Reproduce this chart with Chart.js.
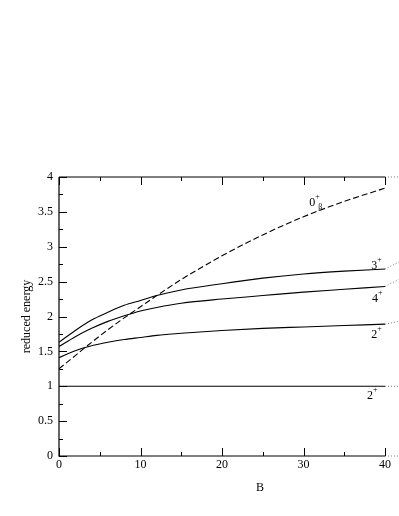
<!DOCTYPE html>
<html>
<head>
<meta charset="utf-8">
<script src="https://cdn.jsdelivr.net/npm/chart.js@4.4.1/dist/chart.umd.min.js"></script>
<style>
    html, body { margin: 0; padding: 0; background: #fff; }
    #wrap { width: 399px; height: 516px; }
</style>
</head>
<body>
<div id="wrap"><canvas id="chart"></canvas></div>
<script>
    // B values and reduced energies
    const bValues = [0, 2, 4, 6, 8, 10, 12, 15, 20, 25, 30, 35, 40];
    const zeroBeta = [1.25, 1.44, 1.63, 1.81, 1.98, 2.14, 2.30, 2.53, 2.87, 3.17, 3.43, 3.65, 3.84];
    const threePlus = [1.63, 1.80, 1.95, 2.06, 2.16, 2.23, 2.30, 2.38, 2.47, 2.55, 2.61, 2.65, 2.68];
    const fourPlus = [1.57, 1.71, 1.83, 1.93, 2.01, 2.08, 2.13, 2.19, 2.25, 2.30, 2.35, 2.39, 2.43];
    const twoPlusGamma = [1.41, 1.51, 1.58, 1.63, 1.67, 1.70, 1.73, 1.76, 1.80, 1.83, 1.85, 1.87, 1.89];
    const twoPlusGround = [1, 1, 1, 1, 1, 1, 1, 1, 1, 1, 1, 1, 1];

    // dotted continuation past the panel edge
    const extB = [40, 41.7];
    const extThree = [2.68, 2.78];
    const extFour = [2.43, 2.53];
    const extTwo = [1.89, 1.93];
    const extGround = [1, 1];

    const xTicks = [0, 10, 20, 30, 40];
    const yTicks = [0, 0.5, 1, 1.5, 2, 2.5, 3, 3.5, 4];

    const curveLabels = [
        { base: '0', sup: '+', sub: 'β', x: 30.7, y: 3.58 },
        { base: '3', sup: '+', sub: '', x: 38.3, y: 2.68 },
        { base: '4', sup: '+', sub: '', x: 38.4, y: 2.21 },
        { base: '2', sup: '+', sub: '', x: 38.3, y: 1.69 },
        { base: '2', sup: '+', sub: '', x: 37.8, y: 0.82 }
    ];

    const serif = '"Liberation Serif", "DejaVu Serif", serif';

    function pts(xs, ys) {
        return xs.map((x, i) => ({ x: x, y: ys[i] }));
    }

    function solid(ys, dash) {
        return {
            data: pts(bValues, ys),
            borderColor: '#000',
            borderWidth: 1.1,
            borderDash: dash || [],
            pointRadius: 0,
            cubicInterpolationMode: 'monotone',
            fill: false
        };
    }

    function dotted(ys) {
        return {
            data: pts(extB, ys),
            borderColor: '#777',
            borderWidth: 1,
            borderDash: [1, 2],
            pointRadius: 0,
            clip: false,
            fill: false
        };
    }

    // frame, inward ticks, titles and curve labels
    const decor = {
        id: 'decor',
        afterDraw(chart) {
            const ctx = chart.ctx;
            const xs = chart.scales.x;
            const ys = chart.scales.y;
            const area = chart.chartArea;
            const x0 = xs.getPixelForValue(0);
            const x40 = xs.getPixelForValue(40);
            const yb = ys.getPixelForValue(0);
            const yt = ys.getPixelForValue(4);
            const edge = chart.width;

            ctx.save();
            ctx.strokeStyle = '#000';
            ctx.lineWidth = 1.2;
            ctx.beginPath();
            ctx.moveTo(x0, yt); ctx.lineTo(x0, yb); ctx.lineTo(x40, yb);
            ctx.moveTo(x0, yt); ctx.lineTo(x40, yt);
            ctx.stroke();

            ctx.strokeStyle = '#777';
            ctx.lineWidth = 1;
            ctx.setLineDash([1, 2]);
            ctx.beginPath();
            ctx.moveTo(x40, yb); ctx.lineTo(edge, yb);
            ctx.moveTo(x40, yt); ctx.lineTo(edge, yt);
            ctx.stroke();
            ctx.setLineDash([]);

            ctx.strokeStyle = '#000';
            ctx.lineWidth = 1;
            ctx.beginPath();
            for (let v = 0; v <= 40; v += 5) {
                const px = Math.round(xs.getPixelForValue(v)) + 0.5;
                const len = v % 10 === 0 ? 8 : 4;
                ctx.moveTo(px, yb); ctx.lineTo(px, yb - len);
                ctx.moveTo(px, yt); ctx.lineTo(px, yt + len);
            }
            for (let v = 0; v <= 4; v += 0.25) {
                const py = Math.round(ys.getPixelForValue(v)) + 0.5;
                const len = (v * 2) % 1 === 0 ? 8 : 4;
                ctx.moveTo(x0, py); ctx.lineTo(x0 + len, py);
            }
            ctx.stroke();

            ctx.fillStyle = '#000';
            ctx.font = '12px ' + serif;
            ctx.textAlign = 'center';
            ctx.textBaseline = 'middle';
            ctx.fillText('B', (area.left + area.right) / 2 + 38, 488);

            ctx.save();
            ctx.translate(27, (yt + yb) / 2);
            ctx.rotate(-Math.PI / 2);
            ctx.fillText('reduced energy', 0, 0);
            ctx.restore();

            ctx.textAlign = 'left';
            ctx.textBaseline = 'alphabetic';
            curveLabels.forEach(l => {
                const px = xs.getPixelForValue(l.x);
                const py = ys.getPixelForValue(l.y);
                ctx.font = '12px ' + serif;
                ctx.fillText(l.base, px, py);
                const w = ctx.measureText(l.base).width;
                ctx.font = '8px ' + serif;
                ctx.fillText(l.sup, px + w, py - 7);
                if (l.sub) ctx.fillText(l.sub, px + w + 3, py + 3);
            });
            ctx.restore();
        }
    };

    new Chart(document.getElementById('chart'), {
        type: 'line',
        data: {
            datasets: [
                solid(zeroBeta, [6, 3]),
                solid(threePlus),
                solid(fourPlus),
                solid(twoPlusGamma),
                solid(twoPlusGround),
                dotted(extThree),
                dotted(extFour),
                dotted(extTwo),
                dotted(extGround)
            ]
        },
        options: {
            responsive: true,
            maintainAspectRatio: false,
            animation: false,
            layout: { padding: { top: 177, right: 14, left: 0, bottom: 0 } },
            plugins: {
                legend: { display: false },
                tooltip: { enabled: false }
            },
            scales: {
                x: {
                    type: 'linear',
                    min: 0,
                    max: 40,
                    afterBuildTicks: s => { s.ticks = xTicks.map(v => ({ value: v })); },
                    afterFit: s => { s.height = 60; },
                    grid: { display: false, drawTicks: false },
                    border: { display: false },
                    ticks: {
                        color: '#000',
                        padding: 2,
                        maxRotation: 0,
                        callback: v => String(v),
                        font: { family: serif, size: 12 }
                    }
                },
                y: {
                    min: 0,
                    max: 4,
                    afterBuildTicks: s => { s.ticks = yTicks.map(v => ({ value: v })); },
                    afterFit: s => { s.width = 59; },
                    grid: { display: false, drawTicks: false },
                    border: { display: false },
                    ticks: {
                        color: '#000',
                        padding: 6,
                        callback: v => String(v),
                        font: { family: serif, size: 12 }
                    }
                }
            }
        },
        plugins: [decor]
    });
</script>
</body>
</html>
